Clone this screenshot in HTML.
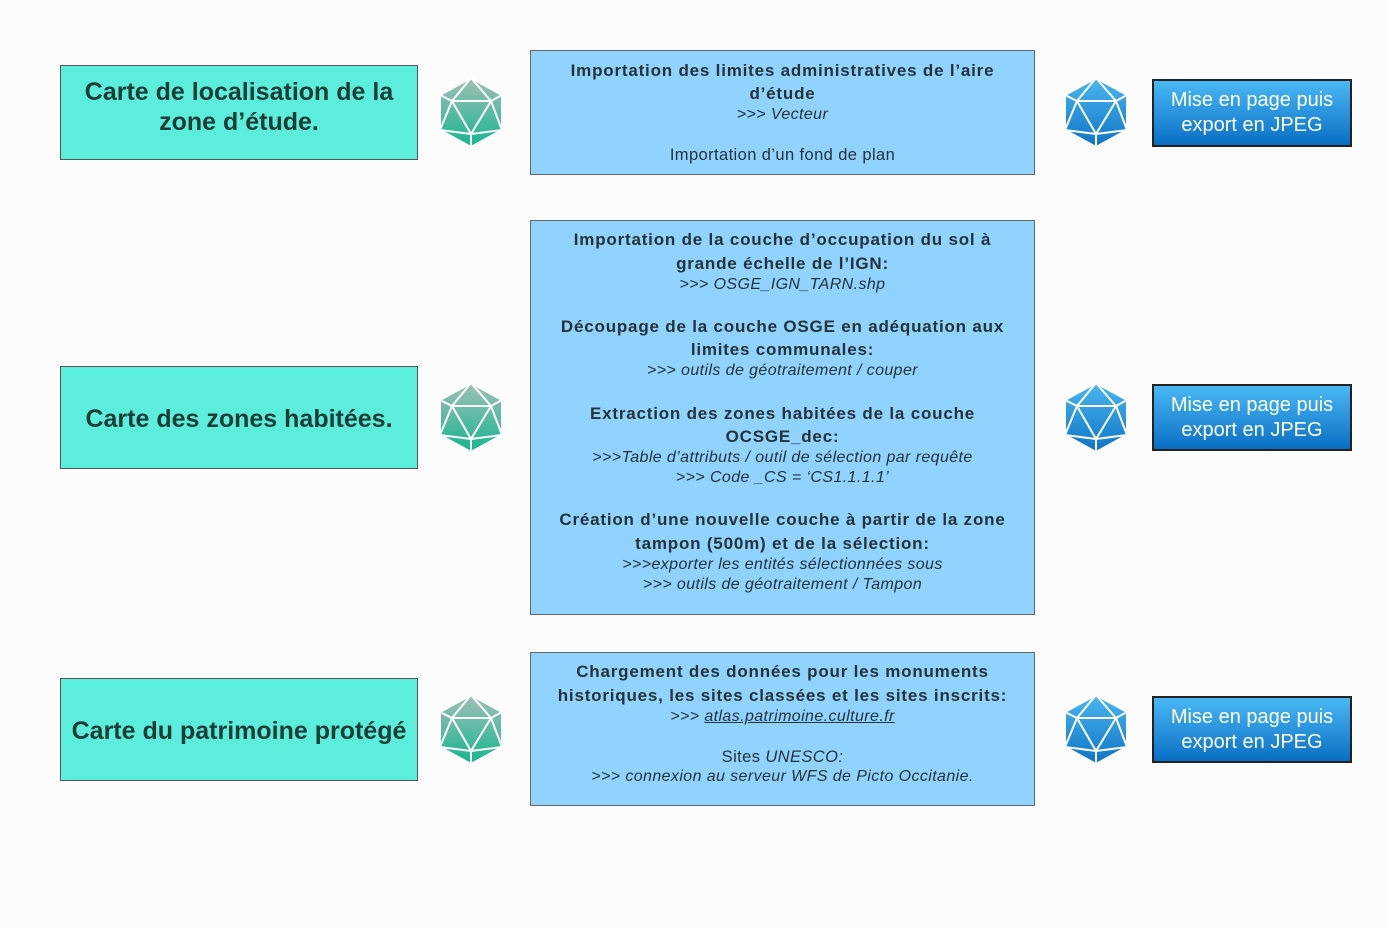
<!DOCTYPE html>
<html><head><meta charset="utf-8"><style>
body{margin:0;width:1388px;height:927px;background:#fcfcfc;position:relative;font-family:"Liberation Sans",sans-serif;overflow:hidden}
.l{position:absolute;left:60px;width:358px;background:#5ceedc;border:1px solid #555;color:#1c3c36;font-size:25px;font-weight:bold;display:flex;align-items:center;justify-content:center;text-align:center;line-height:30px;box-sizing:border-box}
.m{position:absolute;left:530px;width:505px;background:#8fd3fe;border:1px solid #666;box-sizing:border-box}
.r{position:absolute;left:1152px;width:200px;border:2px solid #222;box-sizing:border-box;background:linear-gradient(#4ab8f5,#0a6fc4);color:#fff;font-size:20px;display:flex;align-items:center;justify-content:center;text-align:center;line-height:25px}
.t{position:absolute;left:530px;width:505px;text-align:center;color:#24323a;font-size:16.5px;letter-spacing:0.4px;line-height:20px;white-space:nowrap}
.b{font-weight:bold;font-size:17px;letter-spacing:0.8px}
.i{font-style:italic;font-size:16px;letter-spacing:0.4px}
svg.ic{position:absolute;width:62px;height:69px}
</style></head><body>
<svg width="0" height="0" style="position:absolute"><defs>
<linearGradient id="g1" x1="0" y1="0" x2="0" y2="1"><stop offset="0" stop-color="#a3bfb8"/><stop offset="1" stop-color="#14b58f"/></linearGradient>
<linearGradient id="g2" x1="0" y1="0" x2="0" y2="1"><stop offset="0" stop-color="#4cb6f0"/><stop offset="1" stop-color="#0e74c6"/></linearGradient>
<g id="ico">
<polygon points="31,0 62,17 62,52 31,69 0,52 0,17"/>
<g stroke="#fff" stroke-width="2" fill="none">
<polygon points="31,0 62,17 62,52 31,69 0,52 0,17"/>
<polygon points="12,23 51,23 31,56"/>
<path d="M31,0 L12,23 M31,0 L51,23 M0,17 L12,23 M62,17 L51,23 M12,23 L0,52 M51,23 L62,52 M31,56 L0,52 M31,56 L62,52 M31,56 L31,69"/>
</g></g></defs></svg>

<div class="l" style="top:65px;height:95px;padding-bottom:12px">Carte de localisation de la<br>zone d’étude.</div>
<div class="l" style="top:366px;height:103px;padding-top:3px">Carte des zones habitées.</div>
<div class="l" style="top:678px;height:103px;padding-top:3px">Carte du patrimoine protégé</div>

<svg class="ic" style="left:440px;top:78px" viewBox="0 0 62 69"><use href="#ico" fill="url(#g1)"/></svg>
<svg class="ic" style="left:440px;top:383px" viewBox="0 0 62 69"><use href="#ico" fill="url(#g1)"/></svg>
<svg class="ic" style="left:440px;top:695px" viewBox="0 0 62 69"><use href="#ico" fill="url(#g1)"/></svg>
<svg class="ic" style="left:1065px;top:78px" viewBox="0 0 62 69"><use href="#ico" fill="url(#g2)"/></svg>
<svg class="ic" style="left:1065px;top:383px" viewBox="0 0 62 69"><use href="#ico" fill="url(#g2)"/></svg>
<svg class="ic" style="left:1065px;top:695px" viewBox="0 0 62 69"><use href="#ico" fill="url(#g2)"/></svg>

<div class="m" style="top:50px;height:125px"></div>
<div class="m" style="top:220px;height:395px"></div>
<div class="m" style="top:652px;height:154px"></div>

<div class="t b" style="top:61px">Importation des limites administratives de l’aire</div>
<div class="t b" style="top:84px">d’étude</div>
<div class="t i" style="top:105px">&gt;&gt;&gt; Vecteur</div>
<div class="t" style="top:145px">Importation d’un fond de plan</div>

<div class="t b" style="top:230px">Importation de la couche d’occupation du sol à</div>
<div class="t b" style="top:254px">grande échelle de l’IGN:</div>
<div class="t i" style="top:275px">&gt;&gt;&gt; OSGE_IGN_TARN.shp</div>
<div class="t b" style="top:317px">Découpage de la couche OSGE en adéquation aux</div>
<div class="t b" style="top:340px">limites communales:</div>
<div class="t i" style="top:361px">&gt;&gt;&gt; outils de géotraitement / couper</div>
<div class="t b" style="top:404px">Extraction des zones habitées de la couche</div>
<div class="t b" style="top:427px">OCSGE_dec:</div>
<div class="t i" style="top:448px">&gt;&gt;&gt;Table d’attributs / outil de sélection par requête</div>
<div class="t i" style="top:468px">&gt;&gt;&gt; Code _CS = ‘CS1.1.1.1’</div>
<div class="t b" style="top:510px">Création d’une nouvelle couche à partir de la zone</div>
<div class="t b" style="top:534px">tampon (500m) et de la sélection:</div>
<div class="t i" style="top:555px">&gt;&gt;&gt;exporter les entités sélectionnées sous</div>
<div class="t i" style="top:575px">&gt;&gt;&gt; outils de géotraitement / Tampon</div>

<div class="t b" style="top:662px">Chargement des données pour les monuments</div>
<div class="t b" style="top:686px">historiques, les sites classées et les sites inscrits:</div>
<div class="t i" style="top:707px">&gt;&gt;&gt; <u>atlas.patrimoine.culture.fr</u></div>
<div class="t" style="top:747px">Sites <i>UNESCO:</i></div>
<div class="t i" style="top:767px">&gt;&gt;&gt; connexion au serveur WFS de Picto Occitanie.</div>

<div class="r" style="top:79px;height:68px">Mise en page puis<br>export en JPEG</div>
<div class="r" style="top:384px;height:67px">Mise en page puis<br>export en JPEG</div>
<div class="r" style="top:696px;height:67px">Mise en page puis<br>export en JPEG</div>
</body></html>
